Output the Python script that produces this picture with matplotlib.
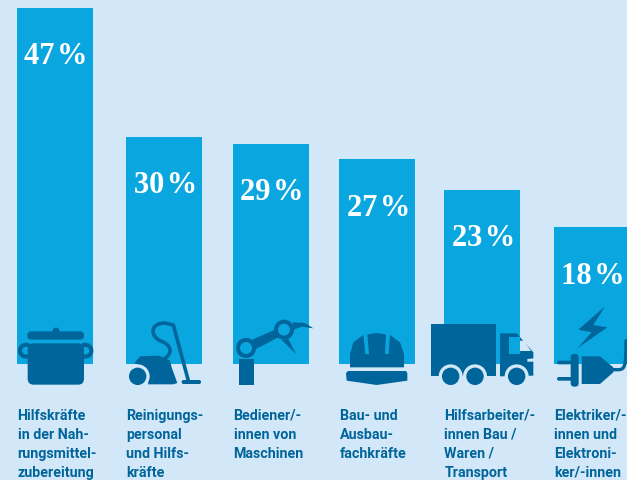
import matplotlib
matplotlib.use("Agg")
import matplotlib.pyplot as plt
from matplotlib.patches import Polygon, Circle, FancyBboxPatch, PathPatch
from matplotlib.path import Path

categories = ["Hilfskräfte\nin der Nah-\nrungsmittel-\nzubereitung",
              "Reinigungs-\npersonal\nund Hilfs-\nkräfte",
              "Bediener/-\ninnen von\nMaschinen",
              "Bau- und\nAusbau-\nfachkräfte",
              "Hilfsarbeiter/-\ninnen Bau /\nWaren /\nTransport",
              "Elektriker/-\ninnen und\nElektroni-\nker/-innen"]
values = [47, 30, 29, 27, 23, 18]
value_labels = ["47\u200a%", "30\u200a%", "29\u200a%", "27\u200a%", "23\u200a%", "18\u200a%"]
bar_centres = [55, 164, 271, 377, 482, 592]

BG = "#D2E7F7"
BAR = "#0AA6E0"
DARK = "#00659A"
W, H = 627, 481
PX_PER_UNIT = 7.575
BASE_Y = 364.8

fig = plt.figure(figsize=(W / 100, H / 100), dpi=100, facecolor=BG)

ax = fig.add_axes([0, 0, 1, 1])
ax.set_xlim(0, W)
ax.set_ylim(-(H - BASE_Y) / PX_PER_UNIT, BASE_Y / PX_PER_UNIT)
ax.axis("off")
ax.bar(bar_centres, values, width=76, color=BAR, linewidth=0, zorder=1)
for c, v, t in zip(bar_centres, values, value_labels):
    ax.text(c + 1.2, v - 55.3 / PX_PER_UNIT, t, ha="center", va="baseline", color="white",
            family=["Liberation Serif", "DejaVu Serif"], weight="bold", fontsize=22, zorder=3)

ov = fig.add_axes([0, 0, 1, 1])
ov.set_xlim(0, W)
ov.set_ylim(H, 0)
ov.axis("off")
ov.patch.set_alpha(0)

for c, t in zip(bar_centres, categories):
    ov.text(c - 37.5, 409, t, ha="left", va="top", color=DARK, family="Roboto",
            weight="bold", fontsize=10.3, linespacing=1.44)


def Z(pts, ox=0, oy=300):
    return [(ox + x / 3, oy + y / 3) for x, y in pts]


def poly(pts, ox=0, color=DARK, z=5):
    ov.add_patch(Polygon(Z(pts, ox), closed=True, fc=color, ec="none", lw=0, zorder=z))


def circ(x, y, r, ox=0, fc=DARK, ec="none", lw=0, z=6):
    cx, cy = Z([(x, y)], ox)[0]
    ov.add_patch(Circle((cx, cy), r, fc=fc, ec=ec, lw=lw, zorder=z))


def rrect(x0, y0, x1, y1, ox=0, r=3, fc=DARK, z=5, ec="none", lw=0):
    (a, b), (c, d) = Z([(x0, y0), (x1, y1)], ox)
    ov.add_patch(FancyBboxPatch((a + r, b + r), c - a - 2 * r, d - b - 2 * r,
                                boxstyle=f"round,pad={r},rounding_size={r}",
                                fc=fc, ec=ec, lw=lw, zorder=z))


def stroke(codes_pts, ox=0, lw=2.5, color=DARK, z=5):
    verts = Z([p for _, p in codes_pts], ox)
    codes = [k for k, _ in codes_pts]
    ov.add_patch(PathPatch(Path(verts, codes), fc="none", ec=color, lw=lw, zorder=z,
                           capstyle="round", joinstyle="round"))


M, L, C = Path.MOVETO, Path.LINETO, Path.CURVE4

# Pot
stroke([(M, (84, 138)), (C, (52, 132)), (C, (52, 178)), (C, (84, 172))], lw=3.0)
stroke([(M, (250, 138)), (C, (282, 132)), (C, (282, 178)), (C, (250, 172))], lw=3.0)
rrect(83, 133, 252, 257, r=6, z=6)
rrect(82, 97, 252, 122, r=4, z=6)
circ(168, 96, 3.4, z=6)

# Vacuum cleaner
poly([(403, 192), (420, 172), (478, 170), (510, 185), (515, 205), (532, 252), (520, 256),
      (445, 256), (440, 210)])
circ(413, 232, 12, fc=BG, z=6)
circ(413, 232, 8.7, z=7)
stroke([(M, (490, 182)), (C, (525, 160)), (C, (510, 135)), (C, (480, 125)),
        (C, (450, 110)), (C, (450, 72)), (C, (495, 72)), (L, (520, 78)), (L, (565, 245))], lw=2.6)
rrect(545, 243, 603, 255, r=1.8)

# Robot arm
poly([(716, 180), (762, 180), (762, 257), (716, 257)])
poly([(757, 122), (825, 92), (835, 115), (768, 150)])
circ(738, 147, 8, fc=BAR, ec=DARK, lw=2.9, z=6)
circ(852, 92, 8, fc=BAR, ec=DARK, lw=2.9, z=6)
poly([(878, 70), (915, 72), (940, 88), (905, 83), (882, 92)])
poly([(845, 123), (865, 120), (888, 165)])

# Helmet
poly([(90, 205), (90, 165), (100, 130), (130, 108), (170, 102), (210, 108), (240, 130),
      (252, 165), (252, 205)], ox=320)
poly([(130, 105), (142, 105), (147, 165), (136, 165)], ox=320, color=BAR, z=6)
poly([(198, 105), (210, 105), (206, 165), (195, 165)], ox=320, color=BAR, z=6)
poly([(84, 216), (258, 216), (262, 222), (262, 245), (170, 258), (80, 245), (78, 222)], ox=320)

# Truck
poly([(333, 75), (528, 75), (528, 232), (333, 232)], ox=320)
poly([(540, 103), (590, 103), (640, 160), (640, 230), (540, 232)], ox=320)
poly([(566, 115), (600, 115), (600, 165), (566, 165)], ox=320, color=BAR, z=6)
poly([(600, 125), (612, 125), (633, 156), (600, 156)], ox=320, color=BG, z=6)
poly([(622, 180), (642, 178), (642, 188), (622, 188)], ox=320, color=BG, z=6)
for xw in (392, 465, 590):
    circ(xw, 232, 12, ox=320, fc=BG, z=6)
    circ(xw, 232, 8.7, ox=320, z=7)

# Lightning and plug
poly([(855, 22), (775, 92), (815, 100), (773, 147), (862, 85), (820, 78)], ox=320)
poly([(785, 172), (840, 172), (880, 205), (880, 220), (840, 255), (785, 255)], ox=320)
rrect(752, 165, 776, 263, ox=320, r=3.5)
rrect(711, 185, 760, 196, ox=320, r=1.8)
rrect(711, 234, 760, 245, ox=320, r=1.8)
stroke([(M, (875, 212)), (L, (895, 212)), (C, (915, 212)), (C, (918, 200)), (C, (918, 125))],
       ox=320, lw=2.4)

fig.savefig("out.png", dpi=100, facecolor=BG)
